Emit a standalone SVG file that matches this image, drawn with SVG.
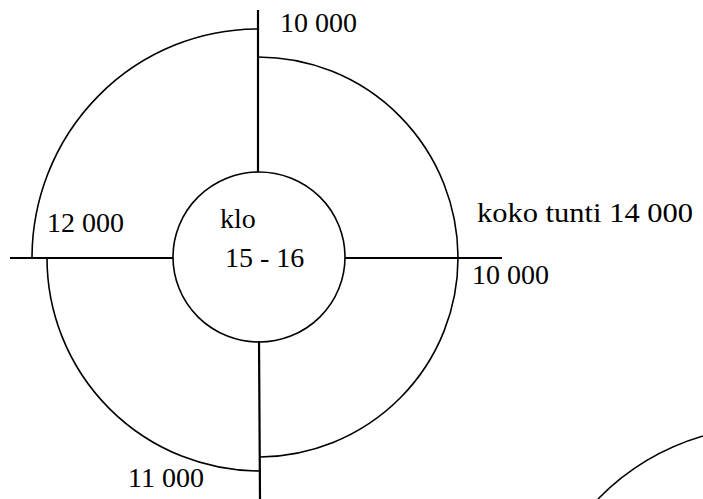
<svg xmlns="http://www.w3.org/2000/svg" width="703" height="499" viewBox="0 0 703 499">
<style>
.ln{stroke:#000;stroke-width:2.2;fill:none}
.arc{stroke:#000;stroke-width:1.6;fill:none}
text{font-family:"Liberation Serif","Times New Roman",serif;font-size:28px;fill:#000}
</style>
<rect width="703" height="499" fill="#fff"/>
<g id="connectors">
<line class="ln" x1="258" y1="10" x2="258" y2="172"/>
<line class="ln" x1="259" y1="341" x2="260" y2="499"/>
<line class="ln" x1="10" y1="258" x2="173" y2="258"/>
<line class="ln" x1="345" y1="258" x2="502" y2="258"/>
</g>
<g id="ring-top-right"><path class="arc" d="M258 57 A200 201 0 0 1 458 258"/></g>
<g id="ring-bottom-right"><path class="arc" d="M458 258 A200 199 0 0 1 260 457"/></g>
<g id="ring-bottom-left"><path class="arc" d="M47 258 A213 213 0 0 0 260 471"/></g>
<g id="ring-top-left"><path class="arc" d="M32 258 A226 229 0 0 1 258 29"/></g>
<g id="center">
<ellipse class="arc" cx="259" cy="257" rx="86" ry="85"/>
<text x="220" y="228">klo</text>
<text x="225" y="267">15 - 16</text>
</g>
<g id="labels">
<text x="280" y="32">10 000</text>
<text x="47" y="232">12 000</text>
<text x="477" y="222" font-size="30" textLength="216" lengthAdjust="spacingAndGlyphs">koko tunti 14 000</text>
<text x="472" y="284">10 000</text>
<text x="128" y="487">11 000</text>
</g>
<g id="partial-circle"><path class="arc" d="M598 499 Q642 454 703 436"/></g>
</svg>
